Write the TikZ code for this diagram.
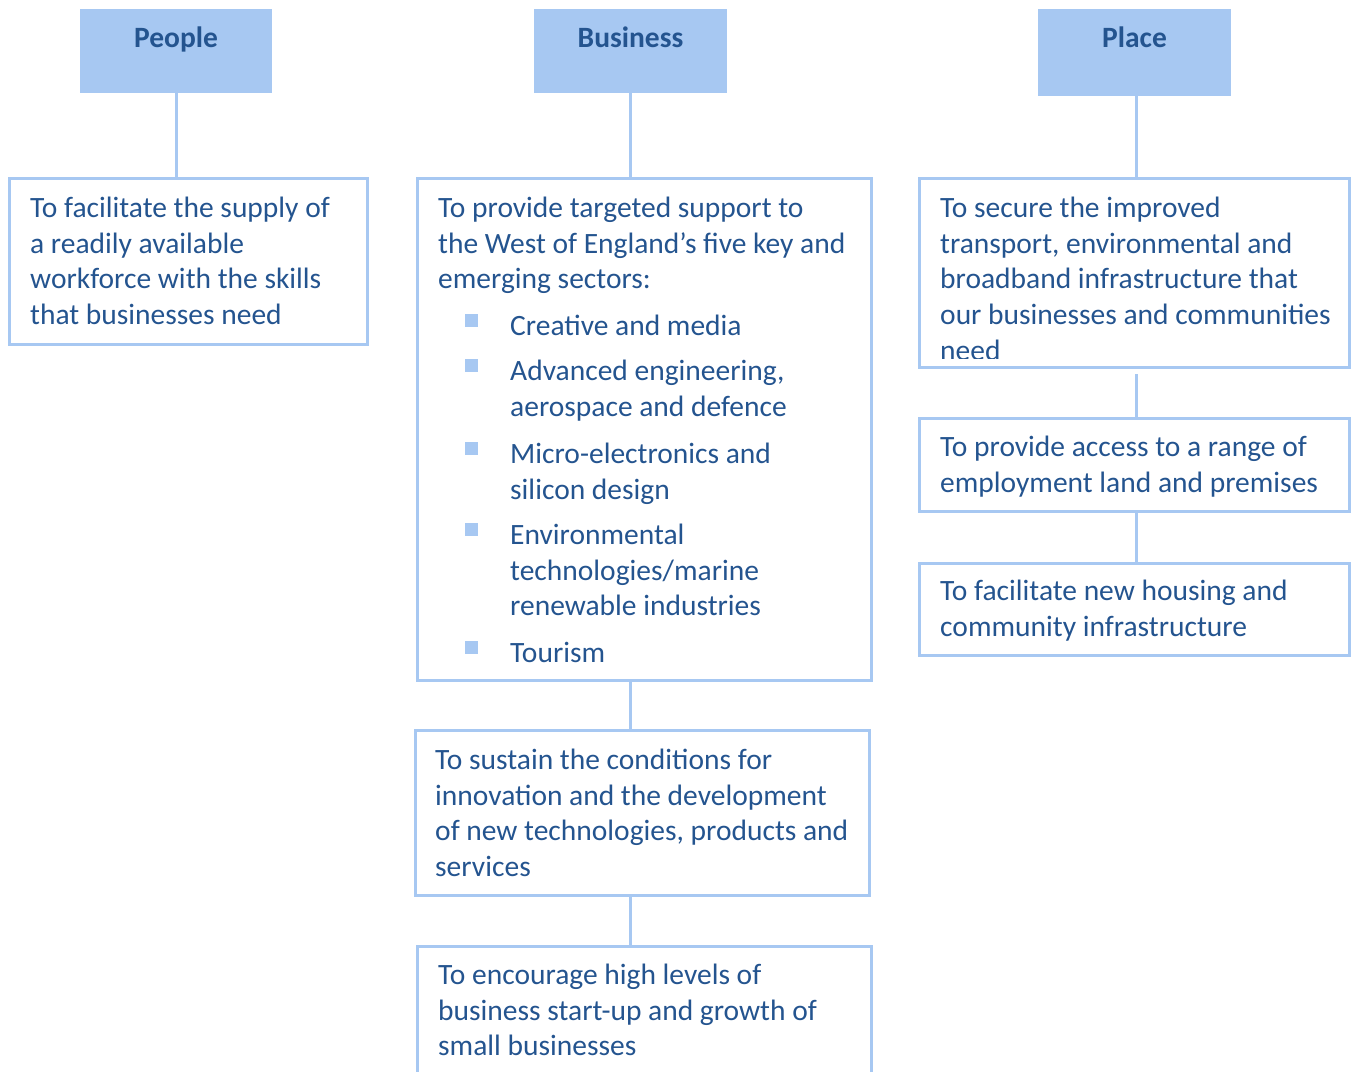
\documentclass[tikz,border=0pt]{standalone}
\usepackage{fontspec}
\setmainfont{Carlito}
\usetikzlibrary{calc}
\definecolor{boxblue}{HTML}{A7C8F2}
\definecolor{inkblue}{HTML}{24548F}
\tikzset{
  hdr/.style={fill=boxblue, draw=none, inner sep=0pt},
  goal/.style={draw=boxblue, line width=3pt, inner sep=0pt},
  link/.style={draw=boxblue, line width=3pt},
  txt/.style={anchor=north west, yshift=25.06pt, inner sep=0pt, align=left, text=inkblue,
    font=\fontsize{29.5}{35.8}\selectfont},
  hdrtxt/.style={anchor=base, inner sep=0pt, text=inkblue,
    font=\fontsize{29.5}{35.8}\selectfont\bfseries},
  bulletsq/.style={fill=boxblue, inner sep=0pt, minimum size=13pt},
}
\begin{document}
\begin{tikzpicture}[x=1pt,y=-1pt]
  \useasboundingbox (0,0) rectangle (1354,1071);
  % headers
  \node[hdr, minimum width=192pt, minimum height=84pt] (people) at (176,51) {};
  \node[hdr, minimum width=193pt, minimum height=84pt] (business) at (630.5,51) {};
  \node[hdr, minimum width=193pt, minimum height=87pt] (place) at (1134.5,52.5) {};
  \node[hdrtxt] (peoplelbl) at (people.north |- 0,47) {People};
  \node[hdrtxt] (businesslbl) at (business.north |- 0,47) {Business};
  \node[hdrtxt] (placelbl) at (place.north |- 0,47) {Place};

  % goal boxes
  \node[goal, minimum width=358pt, minimum height=166pt] (peopleA) at (188.5,261.5) {};
  \node[goal, minimum width=454pt, minimum height=502pt] (busA) at (644.5,429.5) {};
  \node[goal, minimum width=454pt, minimum height=165pt] (busB) at (642.5,813) {};
  \node[goal, minimum width=454pt, minimum height=160pt] (busC) at (644.5,1026.5) {};
  \node[goal, minimum width=430pt, minimum height=189pt] (placeA) at (1134.5,273) {};
  \node[goal, minimum width=430pt, minimum height=93pt] (placeB) at (1134.5,465) {};
  \node[goal, minimum width=430pt, minimum height=92pt] (placeC) at (1134.5,609.5) {};

  % connectors
  \draw[link] (people.south) -- (people.south |- peopleA.north);
  \draw[link] (business.south) -- (business.south |- busA.north);
  \draw[link] (busA.south -| business.south) -- (busB.north -| business.south);
  \draw[link] (busB.south -| business.south) -- (busC.north -| business.south);
  \draw[link] ([xshift=1.5pt]place.south) -- ([xshift=1.5pt]place.south |- placeA.north);
  \draw[link, shorten <=5pt] ([xshift=1.5pt]placeA.south) -- ([xshift=1.5pt]placeB.north);
  \draw[link] ([xshift=1.5pt]placeB.south) -- ([xshift=1.5pt]placeC.north);

  % texts
  \node[txt] (peopleAtxt) at (30,217) {\strut To facilitate the supply of\\a readily available\\workforce with the skills\\that businesses need};
  \node[txt] (busAtxt) at (438,217) {\strut To provide targeted support to\\the West of England’s five key and\\emerging sectors:};
  \foreach \y/\t/\n in {335/{Creative and media}/cm,
      380/{Advanced engineering,\\aerospace and defence}/ae,
      463/{Micro-electronics and\\silicon design}/me,
      544/{Environmental\\technologies/marine\\renewable industries}/en,
      662/{Tourism}/to} {
    \node[bulletsq] (b\n) at (471,\y-15) {};
    \node[txt] (item\n) at (510,\y) {\strut\t};
  }
  \node[txt] (busBtxt) at (435,769) {\strut To sustain the conditions for\\innovation and the development\\of new technologies, products and\\services};
  \node[txt] (busCtxt) at (438,984) {\strut To encourage high levels of\\business start-up and growth of\\small businesses};
  \begin{scope}
    \clip (placeA.north west) rectangle ([yshift=10.5pt]placeA.south east);
    \node[txt] (placeAtxt) at (940,217) {\strut To secure the improved\\transport, environmental and\\broadband infrastructure that\\our businesses and communities\\need};
  \end{scope}
  \node[txt] (placeBtxt) at (940,456.5) {\strut To provide access to a range of\\employment land and premises};
  \node[txt] (placeCtxt) at (940,600) {\strut To facilitate new housing and\\community infrastructure};
\end{tikzpicture}
\end{document}
